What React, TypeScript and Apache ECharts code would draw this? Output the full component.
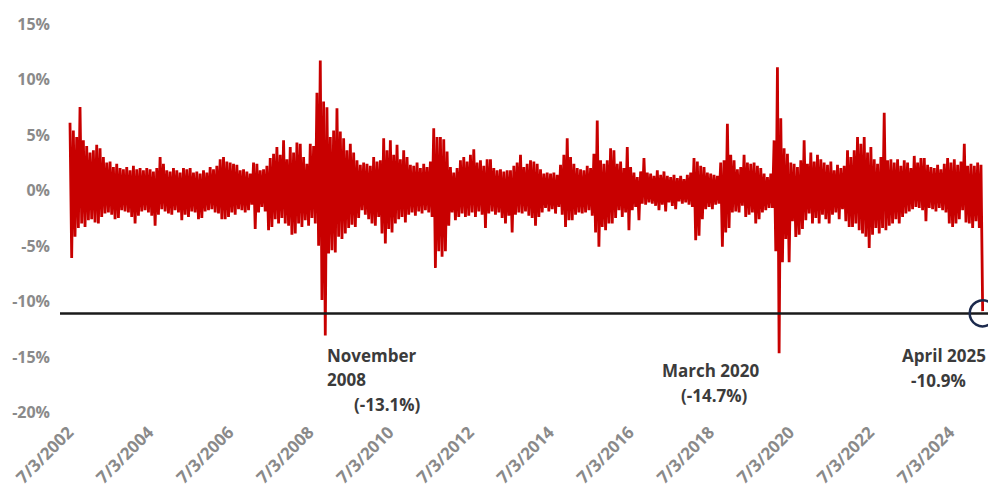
import React, { useEffect, useRef } from 'react';
import * as echarts from 'echarts';

// Monthly envelope of daily returns (%), July 2002 (index 0) to April 2025 (index 273)
const monthlyHigh = [
  6.1, 5.4, 4.8, 7.5, 4.5, 4.0, 3.4, 3.6, 4.1, 3.8,
  3.0, 2.5, 2.6, 2.1, 2.4, 2.0, 1.9, 2.1, 1.8, 2.2,
  1.9, 2.0, 1.8, 2.0, 1.9, 1.7, 2.0, 3.0, 2.4, 1.8,
  1.7, 2.0, 1.8, 1.6, 2.0, 1.9, 2.0, 1.6, 1.7, 1.5,
  1.8, 1.6, 2.1, 1.9, 2.2, 2.8, 3.0, 2.6, 2.5, 2.4,
  2.3, 1.8, 1.9, 1.7, 1.5, 2.5, 2.4, 1.8, 1.9, 2.2,
  2.9, 3.3, 3.9, 3.2, 4.5, 2.8, 3.9, 3.4, 4.3, 4.2,
  3.0, 2.4, 4.2, 4.0, 8.8, 11.7, 8.0, 7.5, 4.8, 5.4,
  7.4, 5.3, 4.7, 3.6, 4.2, 3.4, 2.7, 2.3, 2.5, 2.4,
  2.2, 3.0, 2.6, 2.7, 4.7, 3.6, 4.5, 3.2, 4.1, 2.8,
  3.6, 3.0, 2.3, 2.2, 2.5, 2.0, 2.4, 2.1, 2.6, 5.6,
  4.8, 4.8, 4.6, 3.5, 2.1, 1.6, 2.0, 2.7, 3.0, 2.6,
  3.2, 3.7, 2.5, 2.7, 2.2, 2.8, 2.8, 2.0, 1.8, 1.9,
  1.7, 1.8, 1.8, 2.2, 2.5, 3.2, 2.1, 2.4, 2.7, 2.6,
  2.4, 1.9, 1.5, 1.6, 1.5, 1.6, 1.4, 2.3, 3.2, 4.7,
  3.0, 2.4, 2.0, 1.9, 1.8, 2.2, 2.0, 3.3, 6.3, 2.7,
  2.4, 2.7, 3.8, 3.6, 2.4, 2.6, 2.0, 3.9, 2.1, 1.6,
  1.2, 1.7, 2.9, 1.6, 1.5, 1.3, 1.8, 1.4, 1.7, 1.3,
  1.2, 1.4, 1.1, 1.3, 1.0, 1.4, 1.6, 2.9, 2.6, 2.2,
  2.1, 1.6, 1.5, 1.4, 1.3, 2.5, 2.7, 6.0, 3.2, 2.7,
  1.9, 2.1, 3.2, 2.5, 2.4, 2.5, 2.2, 2.0, 1.5, 1.2,
  1.5, 4.5, 11.1, 6.5, 3.8, 3.3, 2.5, 2.4, 2.1, 2.7,
  4.5, 2.4, 3.4, 2.6, 3.2, 2.8, 2.5, 2.3, 2.6, 1.8,
  2.3, 2.0, 2.2, 3.6, 3.0, 3.6, 4.8, 4.2, 4.8, 3.4,
  3.9, 2.8, 2.4, 3.0, 7.0, 2.7, 2.8, 2.5, 2.8, 2.2,
  2.7, 2.5, 2.0, 3.1, 2.5, 2.9, 2.9, 2.3, 2.1, 2.0,
  2.3, 1.9, 2.4, 2.9, 2.5, 2.8, 2.3, 2.6, 4.2, 2.2,
  2.4, 2.2, 2.5, 2.3,
];

const monthlyLow = [
  -6.1, -4.2, -3.4, -3.0, -3.3, -2.7, -2.6, -2.9, -3.0, -2.4,
  -2.1, -2.0, -2.2, -2.6, -2.5, -1.8, -1.9, -2.0, -2.4, -3.0,
  -2.3, -1.9, -1.8, -2.0, -2.3, -3.2, -2.2, -1.7, -1.9, -2.1,
  -2.2, -1.8, -2.0, -2.7, -2.2, -2.4, -1.9, -2.0, -2.6, -2.5,
  -1.9, -1.8, -1.7, -2.0, -2.1, -2.6, -2.6, -2.4, -2.0, -2.2,
  -1.7, -1.8, -2.0, -1.8, -1.3, -3.5, -2.0, -1.5, -1.9, -3.6,
  -3.3, -2.6, -3.0, -2.5, -3.0, -3.2, -4.0, -3.9, -3.0, -3.3,
  -2.7, -3.2, -2.5, -3.0, -5.0, -9.9, -13.1, -5.7, -5.4, -5.6,
  -4.2, -4.4, -3.9, -3.4, -3.1, -3.3, -2.5, -1.8, -2.2, -2.6,
  -3.0, -3.2, -2.4, -3.9, -4.8, -3.5, -3.8, -3.0, -2.6, -2.4,
  -2.9, -2.2, -2.0, -2.3, -1.9, -2.1, -1.8, -2.0, -2.4, -7.0,
  -5.5, -6.0, -5.5, -3.2, -2.0, -2.7, -2.4, -2.1, -2.4, -2.3,
  -2.0, -2.4, -1.9, -2.2, -3.4, -2.1, -1.9, -2.2, -2.0, -2.5,
  -3.0, -2.3, -3.8, -2.2, -2.0, -2.1, -1.9, -2.3, -2.5, -3.2,
  -2.4, -2.0, -1.6, -1.9, -1.7, -2.1, -1.5, -2.2, -3.3, -2.7,
  -2.7, -2.2, -2.0, -2.1, -2.0, -1.8, -2.3, -3.8, -5.1, -3.3,
  -3.6, -3.0, -3.0, -2.5, -1.8, -2.4, -2.0, -3.6, -1.8, -1.5,
  -2.7, -1.2, -1.3, -1.1, -1.2, -1.4, -1.8, -1.3, -1.9, -1.1,
  -1.4, -1.7, -1.0, -1.2, -1.1, -1.3, -1.5, -4.5, -4.1, -2.6,
  -1.7, -1.5, -1.7, -1.3, -1.2, -5.1, -3.8, -3.4, -2.0, -1.9,
  -2.0, -1.4, -2.4, -2.2, -2.0, -3.0, -2.6, -2.0, -1.8, -1.6,
  -1.6, -5.5, -14.7, -6.5, -4.4, -6.5, -2.8, -4.2, -4.0, -3.5,
  -2.7, -2.1, -3.0, -2.5, -3.0, -2.2, -2.6, -3.0, -2.2, -2.0,
  -2.6, -1.7, -2.8, -3.3, -3.3, -3.0, -3.6, -3.9, -4.2, -5.2,
  -4.0, -3.4, -3.9, -3.4, -3.6, -3.2, -3.0, -2.6, -3.0, -2.4,
  -2.1, -1.9, -1.7, -1.5, -1.6, -1.8, -2.8, -1.6, -1.7, -1.9,
  -1.6, -1.8, -2.0, -3.0, -3.3, -3.0, -2.6, -1.8, -2.9, -3.0,
  -3.4, -2.8, -3.4, -10.9,
];

const tickMonthIndex = [0, 24, 48, 72, 96, 120, 144, 168, 192, 216, 240, 264];
const tickLabels = [
  '7/3/2002', '7/3/2004', '7/3/2006', '7/3/2008', '7/3/2010', '7/3/2012',
  '7/3/2014', '7/3/2016', '7/3/2018', '7/3/2020', '7/3/2022', '7/3/2024',
];
const thresholdValue = -11.1;
const lastMonthIndex = 273;
const annotationLines = [
  ['November', '2008', '(-13.1%)'],
  ['March 2020', '(-14.7%)'],
  ['April 2025', '-10.9%'],
];

export default function App() {
  const ref = useRef<HTMLDivElement>(null);
  useEffect(() => {
    const chart = echarts.init(ref.current!, null, { renderer: 'svg' });
    const data: [number, number][] = [];
    monthlyHigh.forEach((h, i) => {
      data.push([i, h]);
      data.push([i + 0.5, monthlyLow[i]]);
    });
    const labelFont = "'Open Sans', sans-serif";
    const annFont = "bold 17px 'Open Sans', sans-serif";
    const annColor = '#3b3b3b';
    const txt = (text: string, x: number, y: number) => ({
      type: 'text',
      x,
      y,
      style: { text, font: annFont, fill: annColor, textAlign: 'left', textVerticalAlign: 'middle' },
    });
    chart.setOption({
      animation: false,
      backgroundColor: '#ffffff',
      grid: { left: 60, right: 0, top: 24, bottom: 78, containLabel: false, outerBoundsMode: 'none' },
      xAxis: {
        type: 'value',
        min: -3,
        max: 275.1,
        splitLine: { show: false },
        axisLine: { show: false },
        axisTick: { show: false },
        axisLabel: {
          customValues: tickMonthIndex,
          formatter: (v: number) => {
            const k = tickMonthIndex.indexOf(Math.round(v));
            return k >= 0 ? tickLabels[k] : '';
          },
          rotate: 45,
          margin: 17,
          color: '#8a8a8a',
          fontWeight: 'bold',
          fontSize: 17,
          fontFamily: labelFont,
        },
      },
      yAxis: {
        type: 'value',
        min: -20,
        max: 15,
        interval: 5,
        splitLine: { show: false },
        axisLine: { show: false },
        axisTick: { show: false },
        axisLabel: {
          formatter: '{value}%',
          margin: 10,
          color: '#8a8a8a',
          fontWeight: 'bold',
          fontSize: 16,
          fontFamily: labelFont,
        },
      },
      series: [
        {
          type: 'line',
          data,
          symbol: 'none',
          lineStyle: { color: '#c80000', width: 2.8, join: 'miter' },
          markLine: {
            silent: true,
            symbol: ['none', 'none'],
            label: { show: false },
            lineStyle: { color: '#1a1a1a', width: 2.5, type: 'solid' },
            data: [{ yAxis: thresholdValue }],
          },
          markPoint: {
            silent: true,
            symbol: 'circle',
            symbolSize: 26,
            label: { show: false },
            itemStyle: { color: 'rgba(0,0,0,0)', borderColor: '#1c2a4d', borderWidth: 2.5 },
            data: [{ coord: [lastMonthIndex + 0.5, thresholdValue] }],
          },
        },
      ],
      graphic: [
        txt(annotationLines[0][0], 327, 355),
        txt(annotationLines[0][1], 327, 379),
        txt(annotationLines[0][2], 354, 404),
        txt(annotationLines[1][0], 662, 370),
        txt(annotationLines[1][1], 681, 395),
        txt(annotationLines[2][0], 902, 355),
        txt(annotationLines[2][1], 911, 380),
      ],
    });
    return () => chart.dispose();
  }, []);
  return (
    <div
      ref={ref}
      style={{ position: 'fixed', left: 0, top: 0, width: 988, height: 490, background: '#fff' }}
    />
  );
}
